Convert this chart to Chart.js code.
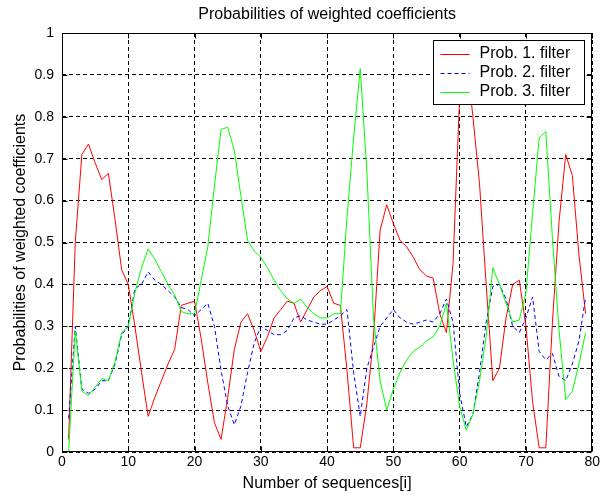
<!DOCTYPE html>
<html>
<head>
<meta charset="utf-8">
<script src="https://cdn.jsdelivr.net/npm/chart.js@4"></script>
<style>
  html, body { margin: 0; padding: 0; background: #fff; }
  #wrap { width: 602px; height: 497px; }
</style>
</head>
<body>
<div id="wrap"><canvas id="probChart" width="602" height="497"></canvas></div>
<script>
// sequence numbers 1..79
const seqIndex = Array.from({ length: 79 }, (_, i) => i + 1);

const prob1 = [
  0.03, 0.50, 0.71, 0.735, 0.69, 0.65, 0.665, 0.555, 0.435, 0.40,
  0.30, 0.19, 0.085, 0.13, 0.17, 0.21, 0.245, 0.35, 0.355, 0.36,
  0.27, 0.165, 0.07, 0.03, 0.13, 0.245, 0.31, 0.33, 0.29, 0.24,
  0.275, 0.32, 0.34, 0.36, 0.355, 0.31, 0.34, 0.37, 0.385, 0.395,
  0.355, 0.35, 0.195, 0.01, 0.01, 0.115, 0.275, 0.53, 0.59, 0.545,
  0.505, 0.49, 0.465, 0.435, 0.42, 0.415, 0.33, 0.285, 0.45, 0.85,
  0.95, 0.80, 0.64, 0.40, 0.17, 0.20, 0.32, 0.40, 0.41, 0.30,
  0.12, 0.01, 0.01, 0.31, 0.55, 0.71, 0.66, 0.47, 0.33
];

const prob2 = [
  0.08, 0.30, 0.15, 0.14, 0.15, 0.17, 0.17, 0.21, 0.28, 0.30,
  0.39, 0.40, 0.43, 0.41, 0.40, 0.385, 0.37, 0.345, 0.34, 0.325,
  0.34, 0.355, 0.30, 0.195, 0.11, 0.065, 0.11, 0.19, 0.26, 0.30,
  0.29, 0.28, 0.28, 0.29, 0.32, 0.325, 0.315, 0.31, 0.305, 0.305,
  0.315, 0.325, 0.34, 0.19, 0.085, 0.20, 0.25, 0.30, 0.32, 0.34,
  0.32, 0.31, 0.305, 0.31, 0.315, 0.31, 0.33, 0.365, 0.31, 0.14,
  0.06, 0.09, 0.19, 0.31, 0.395, 0.40, 0.365, 0.30, 0.285, 0.32,
  0.37, 0.24, 0.22, 0.235, 0.18, 0.17, 0.21, 0.265, 0.37
];

const prob3 = [
  0.0, 0.29, 0.145, 0.135, 0.155, 0.175, 0.17, 0.215, 0.285, 0.30,
  0.38, 0.44, 0.485, 0.46, 0.43, 0.40, 0.375, 0.335, 0.33, 0.33,
  0.41, 0.49, 0.635, 0.77, 0.775, 0.72, 0.61, 0.505, 0.48, 0.465,
  0.44, 0.41, 0.385, 0.365, 0.355, 0.365, 0.345, 0.33, 0.32, 0.32,
  0.33, 0.33, 0.56, 0.75, 0.915, 0.67, 0.32, 0.17, 0.10, 0.15,
  0.19, 0.22, 0.24, 0.25, 0.265, 0.275, 0.30, 0.355, 0.22, 0.108,
  0.052, 0.09, 0.17, 0.275, 0.44, 0.40, 0.355, 0.31, 0.315, 0.38,
  0.57, 0.75, 0.765, 0.51, 0.29, 0.125, 0.145, 0.21, 0.285
];

const seriesLabels = ['Prob. 1. filter', 'Prob. 2. filter', 'Prob. 3. filter'];

const FONT = "'Liberation Sans', Arial, sans-serif";

function toPoints(values) {
  return values.map((v, i) => ({ x: seqIndex[i], y: v }));
}

// box around the plot + small inward ticks, like matlab axes
const frameBox = {
  id: 'frameBox',
  afterDraw(chart) {
    const { ctx, chartArea: a, scales } = chart;
    const L = Math.round(a.left) + 0.5, R = Math.round(a.right) - 0.5;
    const T = Math.round(a.top) + 0.5, B = Math.round(a.bottom) - 0.5;
    ctx.save();
    ctx.strokeStyle = '#000';
    ctx.lineWidth = 1;
    ctx.setLineDash([]);
    ctx.beginPath();
    scales.x.ticks.forEach(t => {
      const px = Math.round(scales.x.getPixelForValue(t.value)) + 0.5;
      ctx.moveTo(px, B); ctx.lineTo(px, B - 5);
      ctx.moveTo(px, T); ctx.lineTo(px, T + 5);
    });
    scales.y.ticks.forEach(t => {
      const py = Math.round(scales.y.getPixelForValue(t.value)) + 0.5;
      ctx.moveTo(L, py); ctx.lineTo(L + 5, py);
      ctx.moveTo(R, py); ctx.lineTo(R - 5, py);
    });
    ctx.stroke();
    ctx.strokeRect(L, T, R - L, B - T);
    ctx.restore();
  }
};

// legend box in the top right corner of the plot
const boxLegend = {
  id: 'boxLegend',
  afterDatasetsDraw(chart) {
    const { ctx, chartArea: a } = chart;
    const w = 151, h = 64;
    const x0 = Math.round(a.right) - 8 - w + 0.5;
    const y0 = Math.round(a.top) + 7 + 0.5;
    ctx.save();
    ctx.fillStyle = '#fff';
    ctx.fillRect(x0, y0, w, h);
    ctx.strokeStyle = '#000';
    ctx.lineWidth = 1;
    ctx.strokeRect(x0, y0, w, h);
    ctx.font = '16px ' + FONT;
    ctx.textBaseline = 'middle';
    chart.data.datasets.forEach((ds, i) => {
      const yy = y0 + 13 + i * 19;
      ctx.beginPath();
      ctx.setLineDash(ds.borderDash || []);
      ctx.strokeStyle = ds.borderColor;
      ctx.moveTo(x0 + 7, Math.round(yy) + 0.5);
      ctx.lineTo(x0 + 36, Math.round(yy) + 0.5);
      ctx.stroke();
      ctx.setLineDash([]);
      ctx.fillStyle = '#000';
      ctx.fillText(ds.label, x0 + 46, yy);
    });
    ctx.restore();
  }
};

const ctx = document.getElementById('probChart').getContext('2d');
const probChart = new Chart(ctx, {
  type: 'line',
  data: {
    datasets: [{
      label: seriesLabels[0],
      data: toPoints(prob1),
      borderColor: '#ff0000',
      borderWidth: 1,
      order: 3
    }, {
      label: seriesLabels[1],
      data: toPoints(prob2),
      borderColor: '#0000ff',
      borderDash: [4, 3],
      borderWidth: 1,
      order: 2
    }, {
      label: seriesLabels[2],
      data: toPoints(prob3),
      borderColor: '#00ff00',
      borderWidth: 1,
      order: 1
    }]
  },
  options: {
    responsive: false,
    animation: false,
    devicePixelRatio: 1,
    layout: { padding: { left: 0, right: 7, top: 0, bottom: 0 } },
    elements: {
      point: { radius: 0 },
      line: { tension: 0, fill: false }
    },
    plugins: {
      legend: { display: false },
      tooltip: { enabled: false },
      title: {
        display: true,
        fullSize: false,
        text: 'Probabilities of weighted coefficients',
        color: '#000',
        font: { family: FONT, size: 16, weight: 'normal' },
        padding: { top: 5, bottom: 8.8 }
      }
    },
    scales: {
      x: {
        type: 'linear',
        min: 0,
        max: 80,
        afterFit: s => { s.height = 45; },
        ticks: { stepSize: 10, color: '#000', padding: 2, font: { family: FONT, size: 14 } },
        grid: { color: '#000', drawTicks: false, lineWidth: 1 },
        border: { display: false, dash: [4, 3] },
        title: {
          display: true,
          text: 'Number of sequences[i]',
          color: '#000',
          font: { family: FONT, size: 16 },
          padding: { top: 0, bottom: 3.4 }
        }
      },
      y: {
        min: 0,
        max: 1,
        afterFit: s => { s.width = 62; },
        ticks: {
          stepSize: 0.1,
          color: '#000',
          padding: 8,
          font: { family: FONT, size: 14 },
          callback: v => String(Number(v.toFixed(1)))
        },
        grid: { color: '#000', drawTicks: false, lineWidth: 1 },
        border: { display: false, dash: [4, 3] },
        title: {
          display: true,
          text: 'Probabilities of weighted coefficients',
          color: '#000',
          font: { family: FONT, size: 16 },
          padding: { top: 11.4, bottom: 0 }
        }
      }
    }
  },
  plugins: [boxLegend, frameBox]
});
</script>
</body>
</html>
